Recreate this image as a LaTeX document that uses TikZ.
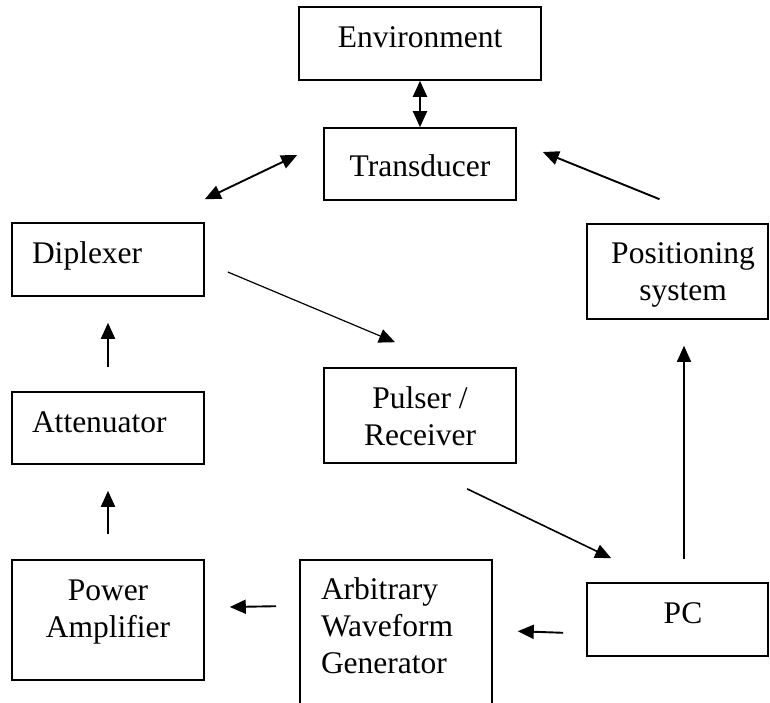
\documentclass[tikz,border=0pt]{standalone}
\usepackage{fontspec}
\setmainfont{Liberation Serif}
\usetikzlibrary{arrows.meta,calc}
\tikzset{
  box/.style={draw, line width=1.6pt, inner sep=0pt, minimum width=192pt,
    font=\fontsize{31.5}{37}\selectfont, text depth=0pt},
  tip/.style={},
  arr/.style={line width=1.9pt, -{Triangle[length=16pt,width=14pt]}},
  dbl/.style={line width=1.9pt, {Triangle[length=16pt,width=14pt]}-{Triangle[length=16pt,width=14pt]}},
}
\begin{document}
\begin{tikzpicture}[x=1pt,y=-1pt]
\useasboundingbox (0,0) rectangle (770,703);
\fill[white] (0,0) rectangle (770,703);
\clip (0,0) rectangle (770,703);
\node[box, minimum width=242pt, minimum height=73pt, text height=9pt] (env) at (420,43.5) {Environment};
\node[box, minimum height=72pt, text height=26pt] (trans) at (420,164) {Transducer};
\node[box, minimum height=73pt, text height=7pt] (dip) at (108,259.5) {\makebox[152pt][l]{Diplexer}};
\node[box, minimum width=181pt, minimum height=95pt, text height=57pt] (pos) at (677.5,271.5) {\hspace*{11pt}\begin{tabular}[b]{@{}c@{}}Positioning\\system\end{tabular}};
\node[box, minimum height=72pt, text height=8pt] (att) at (108,428) {\makebox[152pt][l]{Attenuator}};
\node[box, minimum height=95pt, text height=59pt] (pul) at (420,415.5) {\begin{tabular}[b]{@{}c@{}}Pulser /\\Receiver\end{tabular}};
\node[box, minimum height=120pt, text height=34pt] (pa) at (108,620) {\begin{tabular}[b]{@{}c@{}}Power\\Amplifier\end{tabular}};
\node[box, minimum height=170pt, text height=56pt] (awg) at (396,645) {\makebox[150pt][l]{\begin{tabular}[b]{@{}l@{}}Arbitrary\\Waveform\\Generator\end{tabular}}};
\node[box, minimum width=181pt, minimum height=73pt, text height=7pt] (pc) at (677.5,619.5) {\hspace*{11pt}PC};
\draw[dbl] (env.south) -- (trans.north);
\draw[dbl] ($(dip.north east)+(0,-23)$) -- ($(trans.west)+(-26,-9)$);
\draw[arr] ($(pos.north)+(-18,-24)$) -- ($(trans.east)+(26,-12)$);
\draw[arr, line width=1.2pt] ($(dip.east)+(23,12.5)$) -- ($(pul.north)+(-25,-25)$);
\draw[arr, line width=1.6pt] ($(pul.south)+(47,25)$) -- ($(pc.north west)+(25,-24)$);
\draw[arr, line width=1.6pt] ($(pc.north)+(6.5,-23)$) -- ($(pos.south)+(6.5,26)$);
\draw[arr] ($(pc.south west)+(-23,-24)$) -- ($(awg.north east)+(25,72)$);
\draw[arr] ($(awg.north west)+(-23,47)$) -- ($(pa.east)+(25,-13)$);
\draw[arr] ($(pa.north)+(0,-25)$) -- ($(att.south)+(0,26)$);
\draw[arr] ($(att.north)+(0,-24)$) -- ($(dip.south)+(0,26)$);
\end{tikzpicture}
\end{document}
